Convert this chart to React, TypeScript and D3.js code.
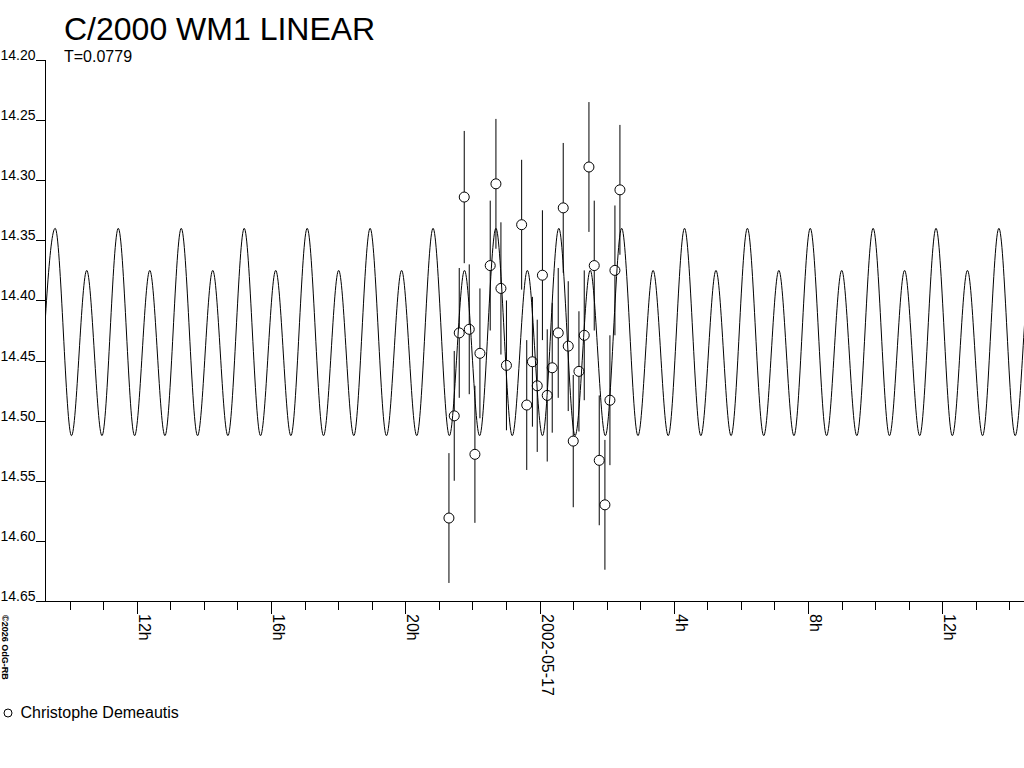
import React from 'react';
import * as d3 from 'd3';

// ---- text ----
const chartTitle = 'C/2000 WM1 LINEAR';
const chartSubtitle = 'T=0.0779';
const observerName = 'Christophe Demeautis';
const copyrightText = '©2026 OdG-RB';

// ---- axes ----
const yTickValues = [14.2, 14.25, 14.3, 14.35, 14.4, 14.45, 14.5, 14.55, 14.6, 14.65];
const yDomain = [14.2, 14.65];
const xStartUtc = Date.UTC(2002, 4, 16, 9, 16);
const xEndUtc = Date.UTC(2002, 4, 17, 14, 26);
const refMidnightUtc = Date.UTC(2002, 4, 17, 0, 0); // 2002-05-17 00:00 UT

// ---- observations (hours from 2002-05-17 0h UT, magnitude, error) ----
const obsHours = [
  -2.699, -2.541, -2.392, -2.243, -2.094, -1.925, -1.776, -1.469, -1.299, -1.15,
  -0.986, -0.533, -0.381, -0.212, -0.069, 0.086, 0.229, 0.378, 0.557, 0.706,
  0.855, 1.004, 1.174, 1.332, 1.472, 1.63, 1.779, 1.948, 2.097, 2.246, 2.395,
];
const obsMags = [
  14.581, 14.496, 14.427, 14.314, 14.424, 14.528, 14.444, 14.371, 14.303, 14.39,
  14.454, 14.337, 14.487, 14.451, 14.471, 14.379, 14.479, 14.456, 14.427, 14.323,
  14.438, 14.517, 14.459, 14.429, 14.289, 14.371, 14.533, 14.57, 14.483, 14.375, 14.308,
];
const obsErrs = [
  0.054, 0.054, 0.054, 0.055, 0.054, 0.057, 0.054, 0.054, 0.054, 0.055,
  0.054, 0.054, 0.054, 0.054, 0.055, 0.054, 0.055, 0.054, 0.054, 0.054,
  0.054, 0.055, 0.05, 0.054, 0.054, 0.054, 0.054, 0.054, 0.054, 0.054, 0.054,
];

// ---- model light curve ----
// times of the brighter maxima, hours from 2002-05-17 0h UT
const modelBrightPeakHours = [
  -14.43, -12.55, -10.674, -8.798, -6.922, -5.047, -3.172, -1.299,
  0.574, 2.447, 4.32, 6.193, 8.066, 9.939, 11.812, 13.685,
];
const modelBrightPeakMag = 14.34;
const modelFaintPeakMag = 14.375;
const modelTroughMag = 14.5125;
const modelPeakToTroughHours = 0.486;

function buildModelPoints(): [number, number][] {
  const pts: [number, number][] = [];
  const tr = modelPeakToTroughHours;
  modelBrightPeakHours.forEach((t, i) => {
    const next = modelBrightPeakHours[i + 1];
    const P = next !== undefined ? next - t : t - modelBrightPeakHours[i - 1];
    if (i === 0) pts.push([t - tr, modelTroughMag]);
    pts.push([t, modelBrightPeakMag]);
    pts.push([t + tr, modelTroughMag]);
    pts.push([t + P / 2, modelFaintPeakMag]);
    pts.push([t + P - tr, modelTroughMag]);
  });
  return pts;
}

const FONT = '"Liberation Sans", Arial, Helvetica, sans-serif';

export default function App() {
  const W = 1024;
  const H = 768;
  const left = 45;
  const right = 1024;
  const top = 60;
  const bottom = 601;

  const x = d3.scaleUtc().domain([new Date(xStartUtc), new Date(xEndUtc)]).range([left, right]);
  const y = d3.scaleLinear().domain(yDomain).range([top, bottom]);
  const xh = (h: number) => x(new Date(refMidnightUtc + h * 3600000));

  const hourTicks = x.ticks(d3.utcHour.every(1) as d3.TimeInterval);
  const dateFmt = d3.utcFormat('%Y-%m-%d');
  const label = (d: Date) => {
    const h = d.getUTCHours();
    if (h % 4 !== 0) return null;
    return h === 0 ? dateFmt(d) : `${h}h`;
  };

  const modelLine = d3
    .line<[number, number]>()
    .x((d) => xh(d[0]))
    .y((d) => y(d[1]))
    .curve(d3.curveMonotoneX);
  const modelPath = modelLine(buildModelPoints()) || '';

  const axisY = Math.round(y(14.65)) + 0.5;
  const r = 5;

  return (
    <svg
      width={W}
      height={H}
      style={{ position: 'absolute', left: 0, top: 0, display: 'block', background: '#fff' }}
      fontFamily={FONT}
    >
      <rect x={0} y={0} width={W} height={H} fill="#fff" />
      <defs>
        <clipPath id="plotClip">
          <rect x={left} y={0} width={right - left} height={axisY} />
        </clipPath>
      </defs>

      {/* title */}
      <text x={64} y={40} fontSize={32} fill="#000">
        {chartTitle}
      </text>
      <text x={64} y={62} fontSize={16} fill="#000">
        {chartSubtitle}
      </text>

      {/* y axis */}
      <line x1={left + 0.5} x2={left + 0.5} y1={Math.round(y(14.2))} y2={axisY} stroke="#000" strokeWidth={1} shapeRendering="crispEdges" />
      {yTickValues.map((v) => {
        const yy = Math.round(y(v)) + 0.5;
        return (
          <g key={v}>
            <line x1={36} x2={left + 1} y1={yy} y2={yy} stroke="#000" strokeWidth={1} shapeRendering="crispEdges" />
            <text x={35.5} y={yy - 1} fontSize={14} textAnchor="end" fill="#000">
              {v.toFixed(2)}
            </text>
          </g>
        );
      })}

      {/* x axis */}
      <line x1={36} x2={right} y1={axisY} y2={axisY} stroke="#000" strokeWidth={1} shapeRendering="crispEdges" />
      {hourTicks.map((d) => {
        const xx = Math.round(x(d)) + 0.5;
        const lab = label(d);
        return (
          <g key={d.getTime()}>
            <line x1={xx} x2={xx} y1={axisY} y2={axisY + (lab ? 12 : 8.5)} stroke="#000" strokeWidth={1} shapeRendering="crispEdges" />
            {lab && (
              <text transform={`translate(${xx + 1},${614}) rotate(90)`} fontSize={16} fill="#000">
                {lab}
              </text>
            )}
          </g>
        );
      })}

      {/* copyright */}
      <text transform={`translate(2,615) rotate(90)`} fontSize={9} fontWeight="bold" fill="#000">
        {copyrightText}
      </text>

      {/* model curve */}
      <g clipPath="url(#plotClip)">
        <path d={modelPath} fill="none" stroke="#000" strokeWidth={1} />
      </g>

      {/* observations */}
      {obsHours.map((h, i) => {
        const cx = xh(h);
        const cy = y(obsMags[i]);
        const y1 = y(obsMags[i] - obsErrs[i]);
        const y2 = y(obsMags[i] + obsErrs[i]);
        return (
          <g key={i}>
            <line x1={cx} x2={cx} y1={y1} y2={cy - r} stroke="#000" strokeWidth={1} />
            <line x1={cx} x2={cx} y1={cy + r} y2={y2} stroke="#000" strokeWidth={1} />
            <circle cx={cx} cy={cy} r={r} fill="none" stroke="#000" strokeWidth={1} />
          </g>
        );
      })}

      {/* legend */}
      <circle cx={8} cy={713} r={4} fill="none" stroke="#000" strokeWidth={1} />
      <text x={20.5} y={718} fontSize={16} fill="#000">
        {observerName}
      </text>
    </svg>
  );
}
